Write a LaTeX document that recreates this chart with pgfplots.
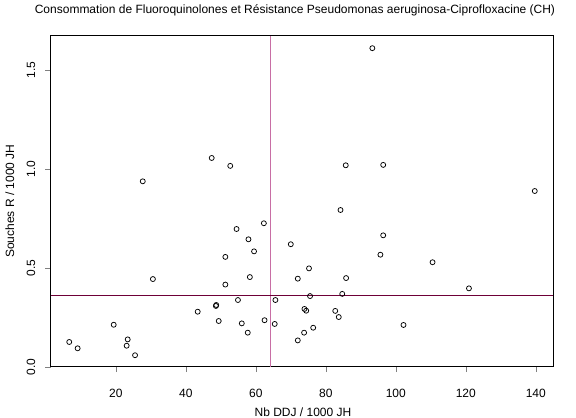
\documentclass[border=0pt]{standalone}
\usepackage{fontspec}
\setmainfont{Liberation Sans}
\usepackage{pgfplots}
\pgfplotsset{compat=1.18}
\definecolor{vline}{RGB}{200,110,165}
\definecolor{hline}{RGB}{110,0,55}
\newcommand{\rfont}{\fontsize{12bp}{14bp}\selectfont}
\begin{document}
\begin{tikzpicture}
\path[use as bounding box] (0,0) rectangle (576bp,418bp);
\begin{axis}[
  at={(50.7bp,51.3bp)}, anchor=south west,
  scale only axis, width=502.6bp, height=331bp,
  xmin=1.4, xmax=145, ymin=0, ymax=1.673,
  xtick={20,40,...,140}, ytick={0,0.5,1,1.5},
  yticklabels={0.0,0.5,1.0,1.5},
  tick pos=left, tick align=outside, major tick length=5.5bp,
  every axis/.append style={line width=0.6pt},
  /pgf/number format/assume math mode=true,
  xticklabel style={font=\rfont, inner sep=0pt, anchor=base, yshift=-25.6bp},
  yticklabel style={font=\rfont, inner sep=0pt, xshift=-10bp, rotate=90, anchor=base},
  xlabel={Nb DDJ / 1000 JH},
  ylabel={Souches R / 1000 JH},
  xlabel style={font=\rfont, inner sep=0pt, at={(axis description cs:0.502,0)}, anchor=base, yshift=-50bp},
  ylabel style={font=\rfont, inner sep=0pt, at={(axis description cs:0,0.5)}, anchor=base, yshift=36.7bp},
  title={Consommation de Fluoroquinolones et Résistance Pseudomonas aeruginosa-Ciprofloxacine (CH)},
  title style={font=\rfont, inner sep=0pt, at={(axis description cs:0.486,1)}, anchor=base, yshift=16.1bp},
]
\addplot[only marks, mark=o, mark size=2.5bp, mark options={line width=0.75pt, black}] coordinates {
(6.7,0.125) (9.1,0.093) (19.4,0.212) (23.4,0.138) (23.1,0.106)
(25.5,0.058) (27.7,0.937) (30.6,0.443) (43.4,0.278) (48.7,0.312)
(48.6,0.307) (49.4,0.231) (47.4,1.055) (52.7,1.015) (51.3,0.415)
(51.3,0.555) (54.5,0.696) (54.9,0.337) (56.0,0.219) (57.7,0.172)
(57.9,0.644) (58.3,0.453) (59.5,0.583) (62.3,0.725) (62.5,0.235)
(65.4,0.216) (65.6,0.337) (70.0,0.619) (72.0,0.445) (72.0,0.133)
(73.8,0.172) (73.9,0.292) (74.4,0.283) (75.2,0.497) (75.5,0.357)
(76.4,0.197) (82.7,0.282) (83.7,0.251) (84.2,0.792) (84.7,0.368)
(85.7,1.018) (85.8,0.448) (93.3,1.61) (95.6,0.566) (96.4,1.02)
(96.4,0.664) (102.2,0.211) (110.5,0.528) (120.9,0.396) (139.7,0.888)
};
\addplot[vline, line width=0.8pt] coordinates {(64.1,0) (64.1,1.673)};
\addplot[hline, line width=0.8pt] coordinates {(1.4,0.361) (145,0.361)};
\end{axis}
\end{tikzpicture}
\end{document}
